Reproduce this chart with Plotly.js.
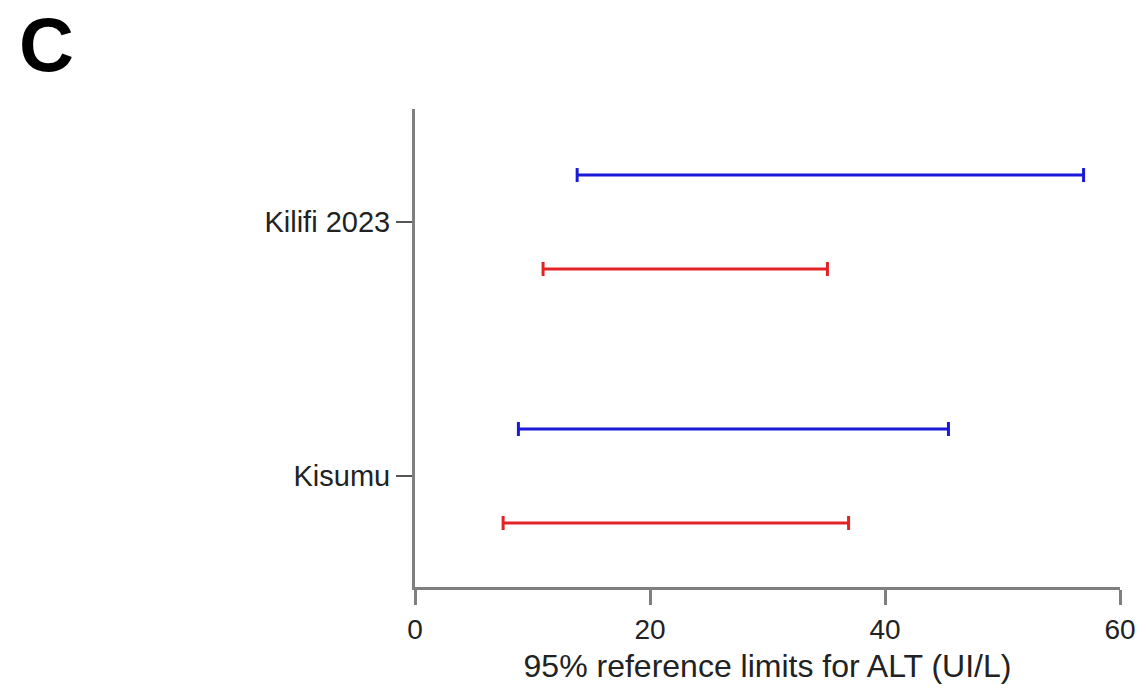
<!DOCTYPE html>
<html>
<head>
<meta charset="utf-8">
<script src="https://cdn.plot.ly/plotly-3.0.1.min.js"></script>
<style>
  body { margin: 0; background: #fff; }
  #chart { width: 1141px; height: 693px; }
</style>
</head>
<body>
<div id="chart"></div>
<script>
// sites on the y axis (0 = Kisumu, 1 = Kilifi 2023)
var sites = ["Kisumu", "Kilifi 2023"];
var sitePos = [0, 1];

// 95% reference limits for ALT (UI/L), lower and upper, per site
var blueLow = [8.8, 13.8];
var blueHigh = [45.4, 56.9];
var redLow = [7.5, 10.9];
var redHigh = [36.9, 35.1];

var offset = 0.185;
var blue = 'rgb(25,25,215)';
var red = 'rgb(225,35,40)';

function rangeTrace(lows, highs, shift, color) {
  var x = [], y = [];
  for (var i = 0; i < lows.length; i++) {
    x.push(lows[i], highs[i], null);
    y.push(sitePos[i] + shift, sitePos[i] + shift, null);
  }
  return {
    x: x, y: y,
    type: 'scatter',
    mode: 'lines+markers',
    line: {color: color, width: 3},
    marker: {symbol: 'line-ns-open', size: 10, color: color, line: {color: color, width: 3}},
    hoverinfo: 'x',
    showlegend: false
  };
}

var data = [
  rangeTrace(blueLow, blueHigh, offset, blue),
  rangeTrace(redLow, redHigh, -offset, red)
];

var axisColor = '#7f7f7f';
var font = 'Liberation Sans, Arial, sans-serif';
var layout = {
  width: 1141, height: 693,
  margin: {l: 415, r: 21, t: 109, b: 106},
  paper_bgcolor: '#fff',
  plot_bgcolor: '#fff',
  font: {family: font, color: '#222'},
  xaxis: {
    range: [0, 60],
    tickvals: [0, 20, 40, 60],
    showgrid: false, zeroline: false,
    showline: true, linecolor: axisColor, linewidth: 3,
    ticks: 'outside', ticklen: 15, tickwidth: 3, tickcolor: axisColor,
    tickfont: {size: 28, color: '#222'},
    title: {text: '95% reference limits for ALT (UI/L)', font: {size: 32, color: '#222'}, standoff: 12}
  },
  yaxis: {
    range: [-0.437, 1.445],
    tickvals: sitePos,
    ticktext: sites,
    showgrid: false, zeroline: false,
    showline: true, linecolor: axisColor, linewidth: 3,
    ticks: 'outside', ticklen: 16, tickwidth: 2, tickcolor: '#555',
    tickfont: {size: 29, color: '#222'}
  },
  annotations: [{
    text: '<b>C</b>', xref: 'paper', yref: 'paper',
    x: -0.565, y: 1.134, xanchor: 'left', yanchor: 'middle',
    showarrow: false, font: {size: 76, color: '#000', family: font}
  }]
};

Plotly.newPlot('chart', data, layout, {displayModeBar: false});
</script>
</body>
</html>
